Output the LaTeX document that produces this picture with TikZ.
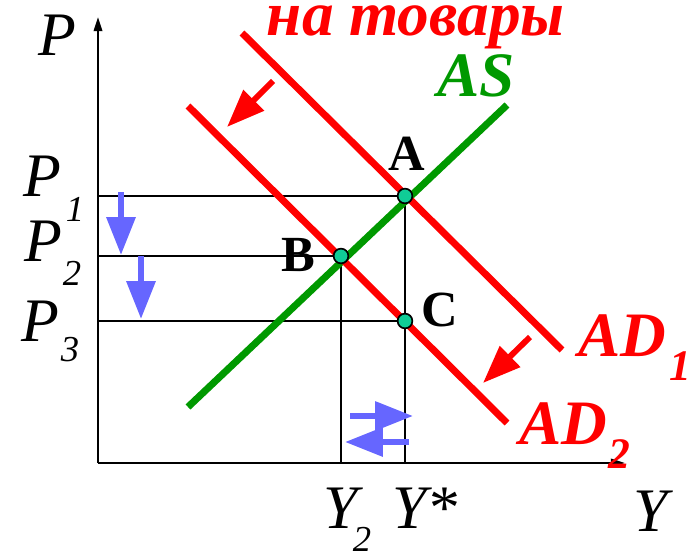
\documentclass[tikz,border=0pt]{standalone}
\usepackage{fontspec}
\setmainfont{LiberationSerif}[
    Extension=.ttf,
    UprightFont=*-Regular,
    BoldFont=*-Bold,
    ItalicFont=*-Italic,
    BoldItalicFont=*-BoldItalic]
\usepackage{tikz}
\usetikzlibrary{arrows.meta,positioning}
\definecolor{DemandRed}{HTML}{FF0000}
\definecolor{SupplyGreen}{HTML}{009900}
\definecolor{ShiftBlue}{HTML}{6666FF}
\definecolor{PointTeal}{HTML}{10CC96}

\begin{document}
\begin{tikzpicture}[
    x=0.025cm, y=-0.025cm,
    axisline/.style={
        line width=1.4pt,
        -{Triangle[length=10pt,width=6pt]},
    },
    guide/.style={
        line width=1.3pt,
        black,
    },
    curve/.style={
        line width=5pt,
    },
    shiftarrow/.style={
        line width=4.2pt,
        -{Triangle[length=27pt,width=20pt]},
    },
    eqpoint/.style={
        circle,
        draw=black,
        line width=1.2pt,
        fill=PointTeal,
        minimum size=10.5pt,
        inner sep=0pt,
    },
    axislabel/.style={font=\fontsize{44}{44}\selectfont\itshape},
    sublabel/.style={font=\fontsize{26}{26}\selectfont\itshape},
    ptlabel/.style={font=\fontsize{36}{36}\selectfont\bfseries},
    curvelabel/.style={font=\fontsize{45}{45}\selectfont\bfseries\itshape},
    cursub/.style={font=\fontsize{31}{31}\selectfont\bfseries\itshape},
]
\useasboundingbox (0,0) rectangle (691,552);
\clip (0,0) rectangle (691,552);

% axes
\coordinate (O) at (98,463);
\coordinate (ytip) at (98,17);
\coordinate (xtip) at (625,463);
\draw[axisline] (O) -- (ytip);
\draw[axisline] (O) -- (xtip);

% equilibria
\coordinate (eqA) at (405,196);
\coordinate (eqB) at (341,256);
\coordinate (eqC) at (405,321);

\draw[guide] (O |- eqA) -- (eqA) -- (eqA |- O);
\draw[guide] (O |- eqB) -- (eqB) -- (eqB |- O);
\draw[guide] (O |- eqC) -- (eqC);

% curves
\coordinate (as0) at (188,407);
\coordinate (as1) at (507,105);
\coordinate (adA0) at (242,33);
\coordinate (adA1) at (562,350);
\coordinate (adB0) at (188,106);
\coordinate (adB1) at (507,423);
\draw[curve,SupplyGreen] (as0) -- (as1);
\draw[curve,DemandRed] (adA0) -- (adA1);
\draw[curve,DemandRed] (adB0) -- (adB1);

% shifts of demand
\coordinate (sh1a) at (273,81);
\coordinate (sh1b) at (227,127);
\coordinate (sh2a) at (530,337);
\coordinate (sh2b) at (483,383);
\draw[shiftarrow,DemandRed] (sh1a) -- (sh1b);
\draw[shiftarrow,DemandRed] (sh2a) -- (sh2b);

% price and output moves
\coordinate (pd1a) at (121,192);
\coordinate (pd1b) at (121,255);
\coordinate (pd2a) at (141,256);
\coordinate (pd2b) at (141,319);
\coordinate (yr0) at (350,416);
\coordinate (yr1) at (413,416);
\coordinate (yl0) at (409,442);
\coordinate (yl1) at (345,442);
\draw[shiftarrow,ShiftBlue] (pd1a) -- (pd1b);
\draw[shiftarrow,ShiftBlue] (pd2a) -- (pd2b);
\draw[shiftarrow,ShiftBlue] (yr0) -- (yr1);
\draw[shiftarrow,ShiftBlue] (yl0) -- (yl1);

\node[eqpoint] (A) at (eqA) {};
\node[eqpoint] (B) at (eqB) {};
\node[eqpoint] (C) at (eqC) {};

% labels
\node[ptlabel] (labA) at (407,154) {A};
\node[ptlabel] (labB) at (298,255) {B};
\node[ptlabel] (labC) at (440,310) {C};

\node[axislabel] (labP) at (57,35) {P};
\node[axislabel] (labP1) at (42,176) {P};
\node[sublabel] (subP1) at (75,209) {1};
\node[axislabel] (labP2) at (43,241) {P};
\node[sublabel] (subP2) at (72,273) {2};
\node[axislabel] (labP3) at (40,321) {P};
\node[sublabel] (subP3) at (70,350) {3};

\node[axislabel] (labY2) at (341,508) {Y};
\node[sublabel] (subY2) at (362,539) {2};
\node[axislabel] (labYs) at (425,508) {Y*};
\node[axislabel] (labY) at (651,511) {Y};

\node[curvelabel,SupplyGreen] (labAS) at (476,76) {AS};
\node[curvelabel,DemandRed] (labAD1) at (622,336) {AD};
\node[cursub,DemandRed] (subAD1) at (680,366) {1};
\node[curvelabel,DemandRed] (labAD2) at (563,424) {AD};
\node[cursub,DemandRed] (subAD2) at (619,454) {2};

\node[font=\fontsize{45}{45}\selectfont\bfseries\itshape,DemandRed,anchor=base west] (labGoods) at (262,35) {на товары};
\end{tikzpicture}
\end{document}
